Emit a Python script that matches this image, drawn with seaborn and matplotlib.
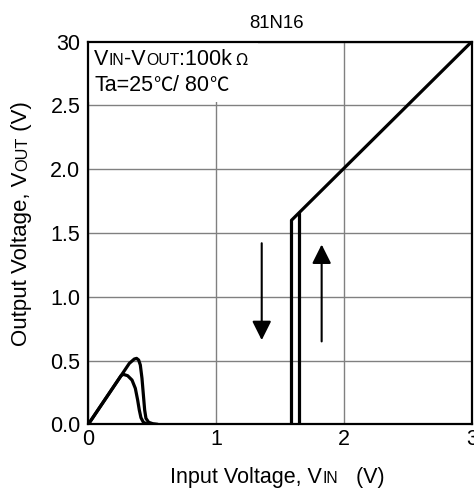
import matplotlib
matplotlib.use('Agg')
import matplotlib.pyplot as plt
import seaborn as sns
import pandas as pd
from matplotlib.patches import Rectangle
from matplotlib.transforms import IdentityTransform

# low input side: two humps (one per temperature)
hump_in_x = [0.0, 0.256, 0.274, 0.308, 0.342, 0.368, 0.386, 0.399, 0.412, 0.431, 0.464]
hump_in_y = [0.0, 0.381, 0.392, 0.381, 0.347, 0.282, 0.191, 0.112, 0.052, 0.016, 0.0]
hump_out_x = [0.0, 0.256, 0.321, 0.360, 0.378, 0.394, 0.407, 0.420, 0.431, 0.441, 0.451, 0.472, 0.504, 0.543]
hump_out_y = [0.0, 0.381, 0.478, 0.512, 0.517, 0.504, 0.465, 0.361, 0.230, 0.112, 0.047, 0.016, 0.005, 0.0]

# detector trip lines
trip_down_x = [1.59, 1.59, 3.0]
trip_down_y = [0.0, 1.60, 3.0]
trip_up_x = [1.65, 1.65]
trip_up_y = [0.0, 1.66]

# hysteresis arrows (start -> end)
arrow_down = [(1.357, 1.42), (1.357, 0.66)]
arrow_up = [(1.826, 0.65), (1.826, 1.41)]

x_ticks = [0, 1, 2, 3]
x_ticklabels = ['0', '1', '2', '3']
y_ticks = [0.0, 0.5, 1.0, 1.5, 2.0, 2.5, 3.0]
y_ticklabels = ['0.0', '0.5', '1.0', '1.5', '2.0', '2.5', '30']

MAIN = ['Liberation Sans', 'DejaVu Sans']
CJK = ['Noto Sans CJK JP', 'DejaVu Sans']


def piece_width(fig, r, s, size, fam):
    # measure with bars around it so leading/trailing spaces count
    t1 = fig.text(0, 0, '|' + s + '|', fontsize=size, family=fam)
    t2 = fig.text(0, 0, '||', fontsize=size, family=fam)
    w = t1.get_window_extent(r).width - t2.get_window_extent(r).width
    t1.remove()
    t2.remove()
    return w


def put_pieces(fig, x, y, pieces, rotation=0, center=False):
    r = fig.canvas.get_renderer()
    widths = [piece_width(fig, r, s, size, fam) for s, size, fam in pieces]
    pos = -sum(widths) / 2 if center else 0
    for (s, size, fam), w in zip(pieces, widths):
        if rotation == 0:
            fig.text(x + pos, y, s, fontsize=size, family=fam, color='black',
                     ha='left', va='baseline', transform=IdentityTransform())
        else:
            fig.text(x, y + pos, s, fontsize=size, family=fam, color='black',
                     rotation=90, rotation_mode='anchor',
                     ha='left', va='baseline', transform=IdentityTransform())
        pos += w


sns.set_style('white')
plt.rcParams['font.family'] = MAIN

fig = plt.figure(figsize=(4.74, 4.88), dpi=100)
ax = fig.add_axes([0.1863, 0.1305, 0.8088, 0.7840])

line_kw = dict(color='black', linewidth=2.3, sort=False, estimator=None, ax=ax, zorder=3)
for xs, ys in [(hump_in_x, hump_in_y), (hump_out_x, hump_out_y),
               (trip_down_x, trip_down_y), (trip_up_x, trip_up_y)]:
    df = pd.DataFrame({'vin': xs, 'vout': ys})
    sns.lineplot(data=df, x='vin', y='vout', **line_kw)

for (x0, y0), (x1, y1) in [arrow_down, arrow_up]:
    ax.annotate('', xy=(x1, y1), xytext=(x0, y0),
                arrowprops=dict(arrowstyle='-|>,head_length=0.4,head_width=0.2',
                                color='black', lw=1.5, mutation_scale=29,
                                shrinkA=0, shrinkB=0))

ax.set_xlim(0, 3)
ax.set_ylim(0, 3)
ax.set_xticks(x_ticks)
ax.set_xticklabels(x_ticklabels)
ax.set_yticks(y_ticks)
ax.set_yticklabels(y_ticklabels)
ax.tick_params(length=0, labelsize=15.5, labelcolor='black')
ax.tick_params(axis='x', pad=3.6)
ax.tick_params(axis='y', pad=5.8)
ax.set_xlabel('')
ax.set_ylabel('')
ax.set_axisbelow(True)
ax.grid(True, color='#808080', linewidth=1.0)
for sp in ax.spines.values():
    sp.set_color('black')
    sp.set_linewidth(1.6)
    sp.set_visible(True)

# white patch behind the condition text
ax.add_patch(Rectangle((0, 2.53), 1.33, 0.47, facecolor='white', edgecolor='none', zorder=1))

fig.text(277 / 474, 460 / 488, '81N16', fontsize=13.4, ha='center', va='baseline', color='black')

put_pieces(fig, 94.3, 423.3, [('V', 15.5, MAIN), ('IN', 11.3, MAIN), ('-V', 15.5, MAIN),
                              ('OUT', 11.3, MAIN), (':100k', 15.5, MAIN), (' Ω', 12, CJK)])
put_pieces(fig, 94.3, 397, [('Ta=25', 15.5, MAIN), ('℃', 14, CJK), ('/ 80', 15.5, MAIN),
                            ('℃', 14, CJK)])

put_pieces(fig, 277.5, 5.3, [('Input Voltage, V', 15.5, MAIN), ('IN', 11.3, MAIN),
                             ('   (V)', 15.5, MAIN)], center=True)
put_pieces(fig, 27, 264.5, [('Output Voltage, V', 16, MAIN), ('OUT', 11.7, MAIN),
                            (' (V)', 16, MAIN)], rotation=90, center=True)

fig.savefig('out.png', dpi=100)
